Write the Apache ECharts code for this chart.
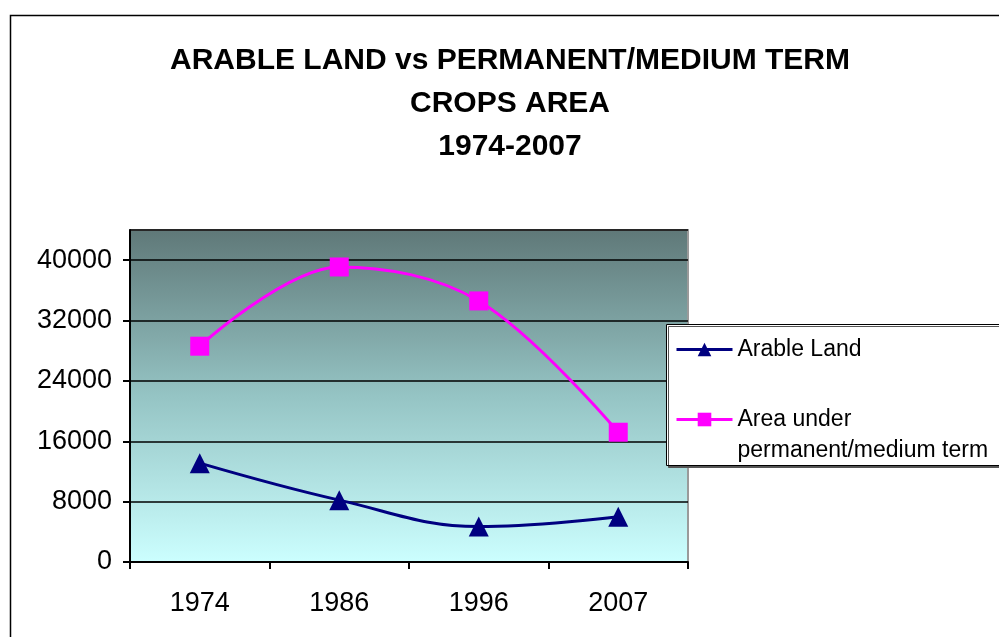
<!DOCTYPE html>
<html>
<head>
<meta charset="utf-8">
<script src="https://cdn.jsdelivr.net/npm/echarts@6/dist/echarts.min.js"></script>
<style>
  html, body { margin: 0; padding: 0; background: #fff; }
  #chart { width: 999px; height: 637px; }
</style>
</head>
<body>
<div id="chart"></div>
<script>
// data
const years = ['1974', '1986', '1996', '2007']
const arableLand = [13100, 8200, 4700, 6000]
const permanentArea = [28600, 39100, 34600, 17200]
const yTicks = [0, 8000, 16000, 24000, 32000, 40000]

const font = 'Liberation Sans, Arial, sans-serif'
const chart = echarts.init(document.getElementById('chart'))

const legendText = { fontFamily: font, fontSize: 23, color: '#000' }

const option = {
  backgroundColor: '#fff',
  animation: false,
  title: {
    text: 'ARABLE LAND vs PERMANENT/MEDIUM TERM\nCROPS AREA\n1974-2007',
    left: 505,
    top: 34,
    textAlign: 'center',
    textStyle: { fontFamily: font, fontSize: 30, fontWeight: 'bold', color: '#000', lineHeight: 43 }
  },
  grid: {
    left: 130, right: 311, top: 230, bottom: 75,
    show: true,
    borderColor: '#9a9a9a',
    borderWidth: 2,
    backgroundColor: new echarts.graphic.LinearGradient(0, 0, 0, 1, [
      { offset: 0, color: '#5f7878' },
      { offset: 0.5, color: '#95c4c4' },
      { offset: 1, color: '#ccffff' }
    ])
  },
  // outer frame + legend box (box runs past the right edge like the original)
  graphic: [
    {
      type: 'rect', z: 100,
      shape: { x: 10.5, y: 15.5, width: 1200, height: 800 },
      style: { fill: 'none', stroke: '#000', lineWidth: 1.5 }
    },
    {
      type: 'rect', z: 1,
      shape: { x: 666.5, y: 324.5, width: 400, height: 141 },
      style: { fill: '#fff', stroke: '#000', lineWidth: 1, shadowColor: '#555', shadowOffsetX: 2, shadowOffsetY: 2 }
    }
  ],
  legend: [
    {
      data: ['Arable Land'],
      left: 675, top: 338, padding: 0,
      itemWidth: 56, itemHeight: 17,
      lineStyle: { width: 3 },
      textStyle: Object.assign({ lineHeight: 22 }, legendText),
      z: 5
    },
    {
      data: ['Area under\npermanent/medium term'],
      left: 675, top: 373, padding: 0,
      itemWidth: 56, itemHeight: 17,
      lineStyle: { width: 3 },
      formatter: name => '\n' + name,
      textStyle: Object.assign({ lineHeight: 31 }, legendText),
      z: 5
    }
  ],
  xAxis: {
    type: 'category',
    data: years,
    boundaryGap: true,
    axisLine: { lineStyle: { color: '#000', width: 2 } },
    axisTick: { show: true, length: 7, lineStyle: { color: '#000', width: 2 } },
    axisLabel: { fontFamily: font, fontSize: 27, color: '#000', margin: 28 }
  },
  yAxis: {
    type: 'value',
    min: 0, max: 44000, interval: 8000,
    axisLine: { show: true, lineStyle: { color: '#000', width: 2 } },
    axisTick: { show: true, length: 7, lineStyle: { color: '#000', width: 2 } },
    axisLabel: {
      fontFamily: font, fontSize: 27, color: '#000', margin: 18,
      showMaxLabel: false,
      formatter: v => yTicks.includes(v) ? String(v) : ''
    },
    splitLine: { lineStyle: { color: '#000', width: 1.5 } }
  },
  series: [
    {
      name: 'Arable Land',
      type: 'line',
      data: arableLand,
      smooth: 0.4,
      symbol: 'triangle',
      symbolSize: 20,
      lineStyle: { color: '#000080', width: 3 },
      itemStyle: { color: '#000080' }
    },
    {
      name: 'Area under\npermanent/medium term',
      type: 'line',
      data: permanentArea,
      smooth: 0.35,
      symbol: 'rect',
      symbolSize: 19,
      lineStyle: { color: '#ff00ff', width: 3 },
      itemStyle: { color: '#ff00ff' }
    }
  ]
}

chart.setOption(option)
</script>
</body>
</html>
